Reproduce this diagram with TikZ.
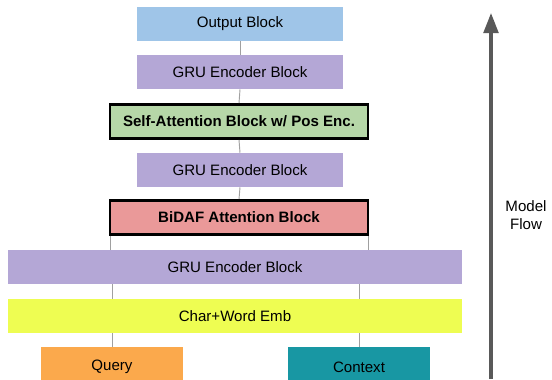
\documentclass[tikz,border=0pt]{standalone}
\usepackage{fontspec}
\setmainfont{Liberation Sans}
\usetikzlibrary{arrows.meta}

\definecolor{outblue}{HTML}{9FC5E8}
\definecolor{grupurple}{HTML}{B4A7D6}
\definecolor{attgreen}{HTML}{B6D7A8}
\definecolor{bidafred}{HTML}{EA9999}
\definecolor{embyellow}{HTML}{EEFD52}
\definecolor{queryorange}{HTML}{FBA94C}
\definecolor{contextteal}{HTML}{1897A3}
\definecolor{linkgray}{HTML}{A0A0A0}
\definecolor{flowgray}{HTML}{595959}

\tikzset{
	blk/.style={rectangle, inner sep=0pt, minimum height=25.5pt, font=\fontsize{11.3}{13}\selectfont},
	narrowblk/.style={blk, minimum width=154.5pt},
	wideblk/.style={blk, minimum width=340.5pt},
	keyblk/.style={blk, draw=black, line width=2pt, minimum width=193.5pt, font=\fontsize{11.3}{13}\selectfont\bfseries},
	inblk/.style={blk, minimum width=107pt, minimum height=30pt},
	link/.style={linkgray, line width=0.7pt},
}

\begin{document}
\begin{tikzpicture}[x=0.75pt,y=-0.75pt]
		\useasboundingbox (0,0) rectangle (552,379);
		\node[narrowblk, fill=outblue] (out) at (240,24) {Output Block};
		\node[narrowblk, fill=grupurple] (gruA) at (240,72) {GRU Encoder Block};
		\node[keyblk, fill=attgreen] (selfatt) at (239,121.5) {Self-Attention Block w/ Pos Enc.};
		\node[narrowblk, fill=grupurple] (gruB) at (240,170) {GRU Encoder Block};
		\node[keyblk, fill=bidafred] (bidaf) at (239,217.5) {BiDAF Attention Block};
		\node[wideblk, fill=grupurple] (gruC) at (235,267) {GRU Encoder Block};
		\node[wideblk, fill=embyellow] (emb) at (235,316) {Char+Word Emb};
		\node[inblk, fill=queryorange] (query) at (112,367) {Query};
		\node[inblk, fill=contextteal] (context) at (359,367) {Context};

		% links between the blocks
		\draw[link] (out.south) -- (gruA.north);
		\draw[link] (gruA.south) -- (selfatt.north);
		\draw[link] (selfatt.south) -- (gruB.north);
		\draw[link] (gruB.south) -- (bidaf.north);
		\draw[link] ([xshift=1pt]bidaf.south west) -- ([xshift=1pt]bidaf.south west |- gruC.north);
		\draw[link] ([xshift=-1pt]bidaf.south east) -- ([xshift=-1pt]bidaf.south east |- gruC.north);
		\draw[link] (query.north |- gruC.south) -- (query.north |- emb.north);
		\draw[link] (context.north |- gruC.south) -- (context.north |- emb.north);
		\draw[link] (query.north |- emb.south) -- (query.north);
		\draw[link] (context.north |- emb.south) -- (context.north);

		% model flow arrow
		\coordinate (flowlow) at (491,379);
		\coordinate (flowtop) at (491,13);
		\draw[flowgray, line width=2.4pt, -{Triangle[length=15pt,width=11pt]}] (flowlow) -- (flowtop);
		\node[align=center, font=\fontsize{11.3}{13.5}\selectfont] (flowlbl) at (526,215) {Model\\Flow};
	\end{tikzpicture}
\end{document}
